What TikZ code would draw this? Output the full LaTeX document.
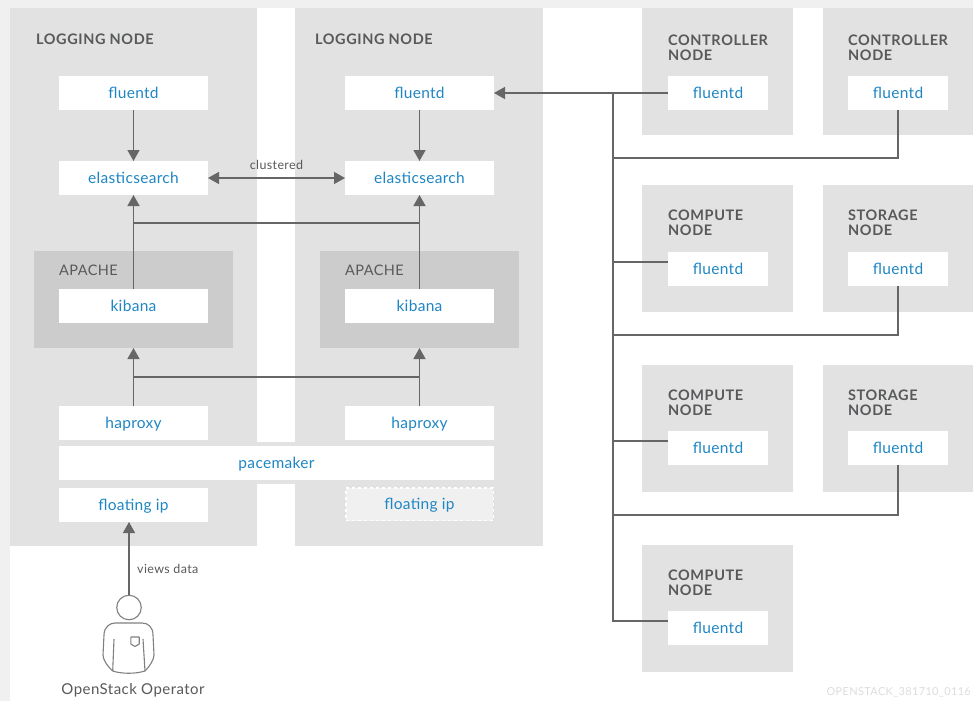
\documentclass[tikz,border=0pt]{standalone}
\usepackage{fontspec}
\setmainfont{Lato}
\usepackage{tikz}
\usetikzlibrary{positioning,arrows.meta}
\definecolor{pagegray}{HTML}{F0F0F0}
\definecolor{nodegray}{HTML}{E2E2E2}
\definecolor{apachegray}{HTML}{CCCCCC}
\definecolor{linegray}{HTML}{666666}
\definecolor{headgray}{HTML}{58595B}
\definecolor{fluentblue}{HTML}{1F86C4}
\definecolor{stampgray}{HTML}{DDDDDD}
\tikzset{
  hostbox/.style={fill=nodegray, inner sep=0pt, outer sep=0pt, anchor=north west},
  webbox/.style={fill=apachegray, inner sep=0pt, outer sep=0pt, minimum width=199pt, minimum height=97pt},
  svcbox/.style={fill=white, text=fluentblue, inner sep=0pt, outer sep=0pt, minimum width=149pt, minimum height=34pt, text height=12pt, text depth=1pt, font=\fontsize{15.5}{17}\selectfont\addfontfeatures{LetterSpace=2}},
  shortbox/.style={svcbox, minimum width=100pt},
  hosttitle/.style={text=headgray, inner sep=0pt, align=left, font=\fontsize{14.5}{15}\selectfont\bfseries\addfontfeatures{LetterSpace=4}},
  link/.style={draw=linegray, line width=1.4pt},
  note/.style={text=headgray, inner sep=0pt, font=\fontsize{12.5}{14}\selectfont\addfontfeatures{LetterSpace=3}},
  figure/.style={draw=gray, line width=1.1pt, line join=round}
}
\begin{document}
\begin{tikzpicture}[x=1pt,y=1pt,>={Triangle[length=11pt,width=12pt]}]
  \useasboundingbox (0,0) rectangle (973,-701);
  \fill[pagegray] (0,0) rectangle (973,-701);
  \fill[white] (10,-8) rectangle (973,-701);

  % logging nodes
  \node (logA) [hostbox, minimum width=247pt, minimum height=538pt] at (10,-8) {};
  \node (logB) [hostbox, minimum width=248pt, minimum height=538pt, right=38pt of logA.north east, anchor=north west] {};
  \fill[nodegray] (257,-442) rectangle (295,-484);
  \node (logAtitle) [hosttitle, below right=26pt and 26pt of logA.north west] {LOGGING NODE};
  \node (logBtitle) [hosttitle, below right=26pt and 20pt of logB.north west] {LOGGING NODE};

  \node (fluA) [svcbox, below right=68pt and 49pt of logA.north west, anchor=north west] {fluentd};
  \node (fluB) [svcbox, below right=68pt and 50pt of logB.north west, anchor=north west] {fluentd};
  \node (esA) [svcbox, below=51pt of fluA] {elasticsearch};
  \node (esB) [svcbox, below=51pt of fluB] {elasticsearch};
  \node (webA) [webbox, below=56pt of esA] {};
  \node (webB) [webbox, below=56pt of esB] {};
  \node (webAtitle) [hosttitle, font=\fontsize{14.5}{15}\selectfont\addfontfeatures{LetterSpace=3}, below right=14pt and 25pt of webA.north west] {APACHE};
  \node (webBtitle) [hosttitle, font=\fontsize{14.5}{15}\selectfont\addfontfeatures{LetterSpace=3}, below right=14pt and 25pt of webB.north west] {APACHE};
  \node (kibA) [svcbox, below=38pt of webA.north] {kibana};
  \node (kibB) [svcbox, below=38pt of webB.north] {kibana};
  \node (hapA) [svcbox, below=58pt of webA] {haproxy};
  \node (hapB) [svcbox, below=58pt of webB] {haproxy};
  \node (pace) [svcbox, minimum width=435pt, below=6pt of hapA.south west, anchor=north west] {pacemaker};
  \node (ipA) [svcbox, below=48pt of hapA] {floating ip};
  \node (ipB) [svcbox, below=48pt of hapB, fill=pagegray, draw=white, dashed, line width=1.5pt, minimum width=147.5pt, minimum height=32.5pt] {floating ip};

  % other nodes
  \node (ctlA) [hostbox, minimum width=151pt, minimum height=126.5pt] at (642,-8) {};
  \node (ctlB) [hostbox, minimum width=150pt, minimum height=126.5pt] at (823,-8) {};
  \node (cmpA) [hostbox, minimum width=151pt, minimum height=126.5pt, below=50.5pt of ctlA.south west, anchor=north west] {};
  \node (stoA) [hostbox, minimum width=150pt, minimum height=126.5pt, below=50.5pt of ctlB.south west, anchor=north west] {};
  \node (cmpB) [hostbox, minimum width=151pt, minimum height=126.5pt, below=53.5pt of cmpA.south west, anchor=north west] {};
  \node (stoB) [hostbox, minimum width=150pt, minimum height=126.5pt, below=53.5pt of stoA.south west, anchor=north west] {};
  \node (cmpC) [hostbox, minimum width=151pt, minimum height=126.5pt, below=53.5pt of cmpB.south west, anchor=north west] {};

  \node (ctlAtitle) [hosttitle, below right=27pt and 26pt of ctlA.north west] {CONTROLLER\\NODE};
  \node (ctlBtitle) [hosttitle, below right=27pt and 25pt of ctlB.north west] {CONTROLLER\\NODE};
  \node (cmpAtitle) [hosttitle, below right=25pt and 26pt of cmpA.north west] {COMPUTE\\NODE};
  \node (stoAtitle) [hosttitle, below right=25pt and 25pt of stoA.north west] {STORAGE\\NODE};
  \node (cmpBtitle) [hosttitle, below right=25pt and 26pt of cmpB.north west] {COMPUTE\\NODE};
  \node (stoBtitle) [hosttitle, below right=25pt and 25pt of stoB.north west] {STORAGE\\NODE};
  \node (cmpCtitle) [hosttitle, below right=25pt and 26pt of cmpC.north west] {COMPUTE\\NODE};

  \node (fluCtlA) [shortbox, below right=68pt and 26pt of ctlA.north west, anchor=north west] {fluentd};
  \node (fluCtlB) [shortbox, below right=68pt and 25pt of ctlB.north west, anchor=north west] {fluentd};
  \node (fluCmpA) [shortbox, below right=67pt and 26pt of cmpA.north west, anchor=north west] {fluentd};
  \node (fluStoA) [shortbox, below right=67pt and 25pt of stoA.north west, anchor=north west] {fluentd};
  \node (fluCmpB) [shortbox, below right=66pt and 26pt of cmpB.north west, anchor=north west] {fluentd};
  \node (fluStoB) [shortbox, below right=66pt and 25pt of stoB.north west, anchor=north west] {fluentd};
  \node (fluCmpC) [shortbox, below right=66pt and 26pt of cmpC.north west, anchor=north west] {fluentd};

  % operator
  \node (opHead) [circle, figure, minimum size=24.5pt, inner sep=0pt] at (129,-607.5) {};
  \draw[figure] (112.7,-671) .. controls (108,-667) and (103,-660) .. (103,-655)
    -- (104,-635) .. controls (104,-627) and (110,-623) .. (115,-623)
    -- (142,-623) .. controls (148,-623) and (153,-627) .. (153,-635)
    -- (154,-655) .. controls (154,-660) and (149,-667) .. (145,-671)
    .. controls (135,-674) and (122,-674) .. (112.7,-671)
    -- (114,-639);
  \draw[figure] (145,-671) -- (143,-639);
  \draw[figure] (130.8,-637) -- (139.2,-637) -- (139.2,-644) -- (135,-646.5) -- (130.8,-644) -- cycle;
  \node (opName) [note, font=\fontsize{15}{17}\selectfont\addfontfeatures{LetterSpace=3}] at (133,-690) {OpenStack Operator};
  \node (stamp) [note, text=stampgray, anchor=east, font=\fontsize{11}{13}\selectfont\addfontfeatures{LetterSpace=3}] at (971,-692) {OPENSTACK\_381710\_0116};

  % junctions
  \coordinate (joinEs) at (kibA.north |- 0,-223);
  \coordinate (joinKib) at (hapA.north |- 0,-377);
  \coordinate (busTop) at (613,-93);
  \coordinate (busCtl) at (613,-158);
  \coordinate (busCmpA) at (613,-262);
  \coordinate (busSto) at (613,-335);
  \coordinate (busCmpB) at (613,-441);
  \coordinate (busStoB) at (613,-515);
  \coordinate (busEnd) at (613,-621);

  \draw[link,->] (fluA) -- (esA);
  \draw[link,->] (fluB) -- (esB);
  \draw[link,<->] (esA) -- node (clust) [note, above=8pt] {clustered} (esB);
  \draw[link,->] (kibA) -- (esA);
  \draw[link,->] (kibB) -- (esB);
  \draw[link] (joinEs) -- (joinEs -| kibB.north);
  \draw[link,->] (hapA) -- (webA);
  \draw[link,->] (hapB) -- (webB);
  \draw[link] (joinKib) -- (joinKib -| hapB.north);
  \draw[link,->] (fluCtlA) -- (fluB);
  \draw[link] (busTop) -- (busEnd) -- (busEnd -| fluCmpC.west);
  \draw[link] (fluCtlB) |- (busCtl);
  \draw[link] (busCmpA) -- (busCmpA -| fluCmpA.west);
  \draw[link] (fluStoA) |- (busSto);
  \draw[link] (busCmpB) -- (busCmpB -| fluCmpB.west);
  \draw[link] (fluStoB) |- (busStoB);
  \draw[link,->] (opHead.north) -- (opHead.north |- ipA.south);
  \node (views) [note, anchor=west] at (137,-569) {views data};
\end{tikzpicture}
\end{document}
